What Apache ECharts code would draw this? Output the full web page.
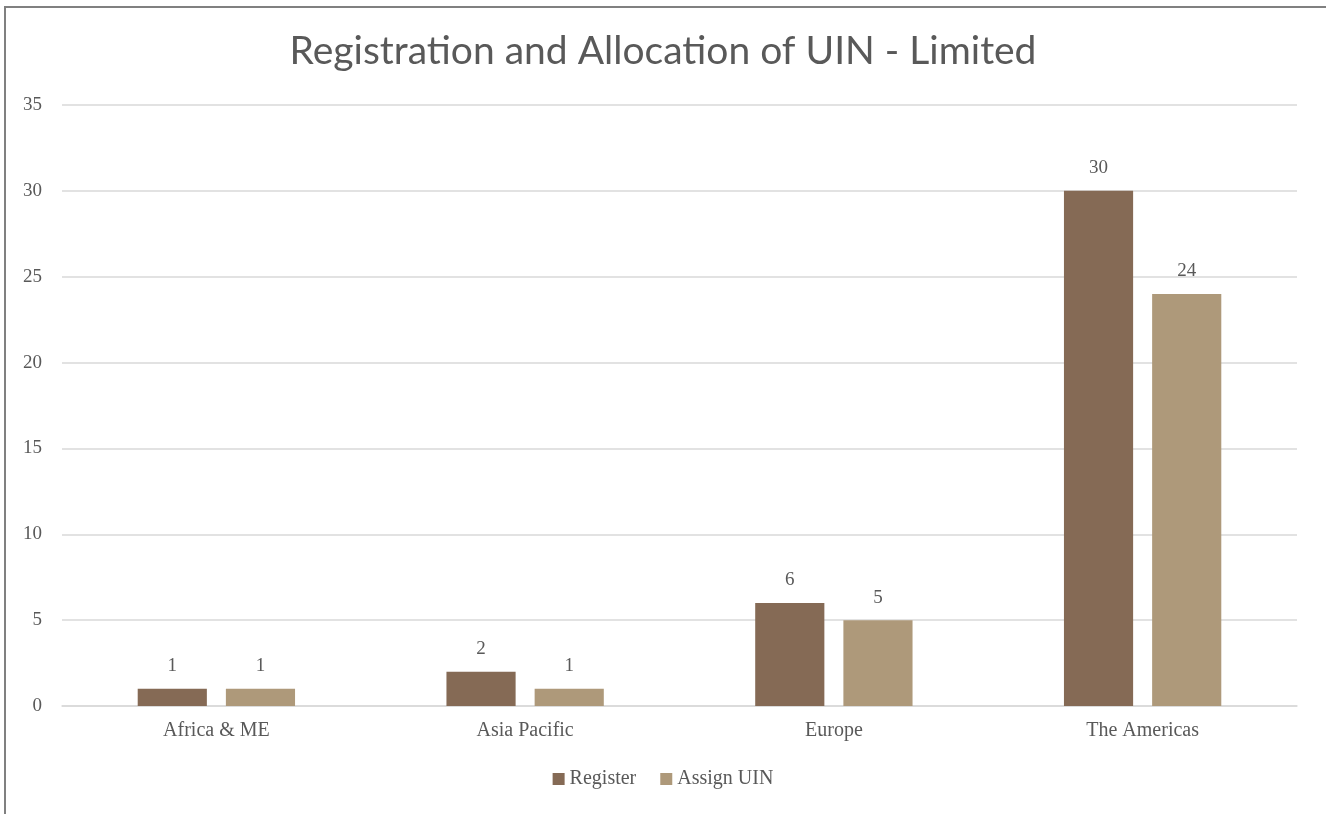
<!DOCTYPE html>
<html><head><meta charset="utf-8">
<script src="https://cdn.jsdelivr.net/npm/echarts@6/dist/echarts.min.js"></script>
<style>html,body{margin:0;padding:0;background:#fff;overflow:hidden}#c{width:1326px;height:814px}</style>
</head><body><div id="c"></div>
<script>
const categories = ['Africa & ME', 'Asia Pacific', 'Europe', 'The Americas'];
const registerValues = [1, 2, 6, 30];
const assignValues = [1, 1, 5, 24];
const seriesNames = ['Register', 'Assign UIN'];
const chart = echarts.init(document.getElementById('c'));
const serif = '"Liberation Serif", "DejaVu Serif", serif';
const lbl = {show: true, position: 'top', distance: 13, color: '#595959', fontFamily: serif, fontSize: 19};
chart.setOption({
  animation: false,
  graphic: [{type: 'rect', shape: {x: 5, y: 7, width: 1500, height: 1000}, style: {fill: 'none', stroke: '#808080', lineWidth: 2}, silent: true}],
  title: {text: 'Registration and Allocation of UIN - Limited', left: 'center', top: 27,
    textStyle: {fontFamily: 'Lato, "Open Sans", sans-serif', fontWeight: 'normal', fontSize: 39, color: '#595959'}},
  grid: {left: 62, right: 29, top: 105, bottom: 108},
  legend: {bottom: 20, left: 'center', itemWidth: 12, itemHeight: 12, itemGap: 24, icon: 'rect',
    textStyle: {fontFamily: serif, fontSize: 20, color: '#595959'}, data: seriesNames},
  xAxis: {type: 'category', data: categories,
    axisLine: {lineStyle: {color: '#d9d9d9', width: 1.5}}, axisTick: {show: false},
    axisLabel: {color: '#595959', fontFamily: serif, fontSize: 20, margin: 15}},
  yAxis: {type: 'value', min: 0, max: 35, interval: 5,
    axisLine: {show: false}, axisTick: {show: false},
    splitLine: {lineStyle: {color: '#d9d9d9', width: 1.5}},
    axisLabel: {color: '#595959', fontFamily: serif, fontSize: 19, margin: 20}},
  series: [
    {name: seriesNames[0], type: 'bar', data: registerValues, barWidth: '22.4%', barGap: '27.5%',
     itemStyle: {color: '#856a55'}, label: lbl},
    {name: seriesNames[1], type: 'bar', data: assignValues, barWidth: '22.4%',
     itemStyle: {color: '#ae997a'}, label: lbl}
  ]
});
</script></body></html>
